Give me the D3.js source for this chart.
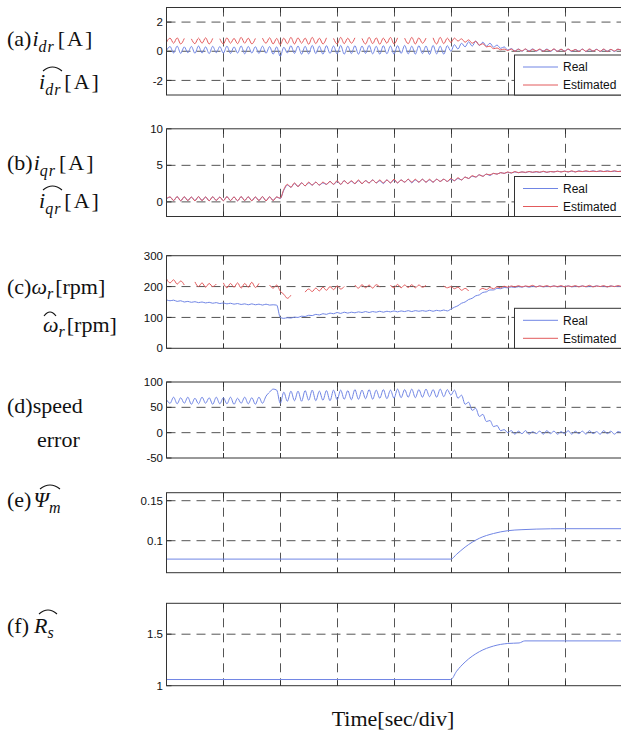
<!DOCTYPE html>
<html>
<head>
<meta charset="utf-8">
<script src="https://cdn.jsdelivr.net/npm/d3@7"></script>
<style>
  body { margin: 0; background: #fff; }
  svg { display: block; }
  .tick-label { font-family: "Liberation Sans", Arial, sans-serif; font-size: 11.5px; fill: #111; }
  .lbl { font-family: "Liberation Serif", "Times New Roman", serif; font-size: 22px; fill: #111; }
  .legend text { font-family: "Liberation Sans", Arial, sans-serif; font-size: 12px; fill: #111; }
</style>
</head>
<body>
<div class="figure"></div>
<script>

// time axis: 8 divisions, oscillating traces sampled every 1/16 div
const timeDivs = [0, 1, 2, 3, 4, 5, 6, 7, 8]
const sampleStep = 1 / 16

// (a) d-axis rotor current
const idrReal = [
  0.05, 0.32, -0.12, 0.35, -0.15, 0.30, -0.10, 0.33, -0.14, 0.36, -0.12, 0.30, -0.16, 0.34, -0.10, 0.32,
  -0.13, 0.35, -0.15, 0.30, -0.12, 0.36, -0.18, 0.33, -0.12, 0.31, -0.15, 0.35, -0.14, 0.32, -0.20, 0.30,
  -0.35, 0.28, -0.12, 0.38, -0.15, 0.36, -0.20, 0.34, -0.18, 0.40, -0.16, 0.35, -0.20, 0.38, -0.15, 0.36,
  -0.18, 0.40, -0.20, 0.35, -0.16, 0.38, -0.20, 0.36, -0.15, 0.40, -0.18, 0.34, -0.20, 0.38, -0.17, 0.36,
  -0.20, 0.38, -0.15, 0.40, -0.18, 0.35, -0.20, 0.38, -0.16, 0.36, -0.22, 0.40, -0.18, 0.35, -0.20, 0.38,
  0.00, 0.45, 0.15, 0.55, 0.30, 0.65, 0.35, 0.70, 0.40, 0.62, 0.35, 0.55, 0.28, 0.42, 0.20, 0.30,
  0.08, 0.18, 0.02, 0.15, 0.00, 0.14, 0.02, 0.16, 0.00, 0.12, 0.02, 0.15, -0.02, 0.14, 0.00, 0.13,
  0.02, 0.14, -0.02, 0.12, 0.00, 0.15, -0.03, 0.12, 0.01, 0.14, -0.02, 0.13, 0.00, 0.12, -0.02, 0.14, 0.05
]
const idrEst = [
  0.62, 0.90, 0.55, 0.92, 0.50, 0.88, null, 0.85, 0.52, 0.90, 0.55, 0.92, 0.50, 0.88, null, 0.86,
  0.50, 0.92, 0.55, 0.88, 0.52, 0.95, 0.55, 0.90, 0.50, 0.88, null, 0.90, 0.55, 0.92, 0.50, 0.88,
  0.45, 0.90, 0.52, 0.95, 0.50, 0.92, 0.55, 0.90, 0.48, 0.95, 0.52, 0.90, 0.50, 0.92, null, 0.88,
  0.50, 0.95, 0.52, 0.90, 0.55, 0.92, null, 0.88, 0.50, 0.95, 0.52, 0.92, 0.48, 0.90, 0.55, 0.95,
  0.50, 0.92, null, 0.90, 0.52, 0.95, 0.50, 0.92, 0.55, 0.90, null, 0.92, 0.50, 0.95, 0.52, 0.90,
  0.60, 0.90, 0.70, 0.85, 0.62, 0.78, 0.55, 0.68, 0.42, 0.52, 0.30, 0.35, 0.18, 0.22, 0.10, 0.15,
  0.05, 0.15, 0.00, 0.14, 0.02, 0.16, -0.02, 0.13, 0.03, 0.15, 0.00, 0.12, 0.02, 0.16, -0.01, 0.14,
  0.00, 0.15, 0.02, 0.12, -0.02, 0.14, 0.00, 0.16, 0.01, 0.12, 0.00, 0.15, -0.02, 0.13, 0.02, 0.14, 0.05
]

// (b) q-axis rotor current
const iqrReal = [
  0.40, 0.65, 0.20, 0.70, 0.15, 0.68, 0.20, 0.65, 0.18, 0.70, 0.20, 0.66, 0.15, 0.68, 0.22, 0.65,
  0.18, 0.70, 0.20, 0.66, 0.15, 0.70, 0.20, 0.68, 0.18, 0.65, 0.20, 0.70, 0.15, 0.68, 0.20, 0.66,
  0.45, 1.6, 2.3, 2.0, 2.5, 2.1, 2.6, 2.2, 2.6, 2.3, 2.7, 2.3, 2.6, 2.4, 2.8, 2.4,
  2.8, 2.4, 2.9, 2.5, 2.8, 2.5, 2.9, 2.5, 2.9, 2.6, 3.0, 2.6, 2.9, 2.5, 3.0, 2.6,
  3.0, 2.6, 3.0, 2.7, 3.1, 2.6, 3.0, 2.7, 3.1, 2.7, 3.0, 2.7, 3.1, 2.8, 3.1, 2.8,
  3.1, 2.9, 3.2, 3.0, 3.4, 3.2, 3.5, 3.4, 3.7, 3.5, 3.8, 3.6, 3.9, 3.8, 4.0, 3.9,
  4.05, 3.95, 4.1, 4.0, 4.1, 4.0, 4.15, 4.05, 4.1, 4.05, 4.15, 4.05, 4.15, 4.1, 4.2, 4.1,
  4.2, 4.1, 4.2, 4.1, 4.25, 4.15, 4.2, 4.15, 4.25, 4.15, 4.2, 4.15, 4.25, 4.15, 4.2, 4.15, 4.2
]
const iqrEst = [
  0.45, 0.68, 0.18, 0.72, 0.15, 0.70, 0.18, 0.66, 0.15, 0.72, 0.18, 0.68, 0.15, 0.70, 0.20, 0.66,
  0.15, 0.72, 0.18, 0.68, 0.15, 0.72, 0.18, 0.70, 0.15, 0.68, 0.18, 0.72, 0.15, 0.70, 0.18, 0.68,
  0.50, 1.7, 2.4, 2.0, 2.6, 2.1, 2.6, 2.2, 2.7, 2.3, 2.7, 2.3, 2.7, 2.4, 2.8, 2.4,
  2.9, 2.4, 2.9, 2.5, 2.9, 2.5, 3.0, 2.5, 2.9, 2.6, 3.0, 2.6, 3.0, 2.6, 3.0, 2.6,
  3.1, 2.6, 3.0, 2.7, 3.1, 2.7, 3.1, 2.7, 3.1, 2.7, 3.1, 2.7, 3.1, 2.8, 3.1, 2.8,
  3.2, 2.9, 3.3, 3.0, 3.4, 3.2, 3.6, 3.4, 3.7, 3.5, 3.8, 3.7, 3.9, 3.8, 4.0, 3.9,
  4.1, 3.95, 4.15, 4.0, 4.1, 4.05, 4.15, 4.05, 4.15, 4.05, 4.2, 4.05, 4.15, 4.1, 4.2, 4.1,
  4.2, 4.1, 4.25, 4.1, 4.2, 4.15, 4.25, 4.15, 4.2, 4.15, 4.25, 4.15, 4.2, 4.15, 4.25, 4.15, 4.2
]

// (c) rotor speed [rpm]
const speedReal = [
  157, 154, 156, 152, 154, 150, 152, 149, 151, 148, 150, 147, 149, 146, 148, 145,
  147, 144, 146, 143, 145, 142, 144, 141, 144, 141, 143, 140, 143, 140, 141, 140,
  100, 97, 99, 98, 101, 100, 104, 103, 107, 106, 110, 108, 112, 110, 114, 112,
  116, 113, 117, 114, 117, 115, 118, 116, 119, 116, 119, 117, 120, 117, 120, 118,
  121, 118, 121, 119, 122, 119, 122, 120, 122, 120, 123, 120, 123, 121, 124, 121,
  127, 133, 138, 146, 150, 158, 162, 170, 173, 181, 183, 189, 189, 194, 193, 197,
  196, 199, 197, 200, 198, 201, 198, 201, 199, 202, 199, 201, 200, 202, 199, 201,
  200, 202, 199, 201, 200, 202, 199, 201, 200, 202, 200, 201, 199, 202, 200, 201, 200
]
const speedEst = [
  225, 212, 222, 208, 218, 205, null, null, 215, 200, 212, 198, 210, 200, 208, null,
  212, 196, 210, 198, 212, 195, 210, 198, 214, 197, 210, null, null, 205, 195, 205,
  185, 175, 162, 172, null, null, null, 182, 192, 184, 195, 186, 198, 188, 200, 190,
  202, 192, 200, null, null, 205, 195, 206, 196, 205, 195, 206, 198, null, null, 205,
  196, 207, 196, 205, 197, 206, 196, 205, 198, 204, null, null, null, null, 202, 196,
  200, 193, 198, 188, 194, 186, null, null, 188, 194, 190, 197, 193, 199, 196, 201,
  198, 202, 199, 203, 199, 202, 200, 204, 199, 202, 200, 203, 199, 202, 200, 203,
  199, 202, 200, 203, 199, 202, 200, 204, 199, 202, 200, 203, 199, 202, 200, 203, 200
]

// (d) speed error
const speedError = [
  65, 58, 70, 57, 69, 58, 70, 56, 68, 57, 70, 58, 69, 56, 70, 57,
  69, 57, 70, 56, 68, 58, 70, 57, 69, 56, 70, 58, 72, 80, 86, 84,
  58, 80, 62, 82, 63, 82, 62, 83, 64, 84, 63, 82, 64, 83, 63, 84,
  65, 84, 66, 83, 65, 85, 66, 84, 67, 85, 66, 84, 68, 85, 67, 84,
  68, 86, 69, 85, 70, 86, 69, 85, 70, 86, 71, 85, 70, 86, 71, 85,
  74, 84, 68, 74, 56, 60, 44, 48, 32, 36, 22, 24, 12, 14, 4, 6,
  0, 4, -3, 3, -2, 4, -3, 2, -2, 3, -3, 4, -2, 3, -3, 2,
  -2, 4, -3, 3, -2, 3, -3, 4, -2, 2, -3, 4, -2, 3, -3, 2, 0
]

// (e) estimated flux linkage, (f) estimated stator resistance
const fluxTime = [0, 5, 5.1, 5.25, 5.5, 5.75, 6, 6.25, 6.5, 7, 8]
const fluxEst = [0.077, 0.077, 0.083, 0.092, 0.103, 0.109, 0.1125, 0.1138, 0.1145, 0.115, 0.115]
const rsTime = [0, 5, 5.1, 5.25, 5.5, 5.75, 6, 6.2, 6.3, 7, 8]
const rsEst = [1.06, 1.06, 1.14, 1.23, 1.33, 1.385, 1.41, 1.415, 1.435, 1.435, 1.435]

const blue = "#7085e4"
const red = "#e25a5c"

const sampled = values => values.map((v, i) => [i * sampleStep, v])
const paired = (ts, vs) => ts.map((t, i) => [t, vs[i]])

const panels = [
  { top: 7.5, bottom: 95, domain: [-3, 3], ticks: [-2, 0, 2], legend: true,
    series: [{ data: sampled(idrReal), color: blue }, { data: sampled(idrEst), color: red }] },
  { top: 128.8, bottom: 216.5, domain: [-2, 10], ticks: [0, 5, 10], legend: true,
    series: [{ data: sampled(iqrReal), color: blue }, { data: sampled(iqrEst), color: red }] },
  { top: 255.7, bottom: 348.3, domain: [0, 300], ticks: [0, 100, 200, 300], legend: true,
    series: [{ data: sampled(speedReal), color: blue }, { data: sampled(speedEst), color: red }] },
  { top: 382, bottom: 458, domain: [-50, 100], ticks: [-50, 0, 50, 100],
    series: [{ data: sampled(speedError), color: blue }] },
  { top: 492.7, bottom: 572.7, domain: [0.06, 0.16], ticks: [0.1, 0.15],
    series: [{ data: paired(fluxTime, fluxEst), color: blue }] },
  { top: 603.3, bottom: 685.7, domain: [1, 1.8], ticks: [1, 1.5],
    series: [{ data: paired(rsTime, rsEst), color: blue }] }
]

const width = 621
const height = 736
const svg = d3.select(".figure")
  .append("svg")
    .attr("width", width)
    .attr("height", height)

const x = d3.scaleLinear().domain([0, 8]).range([166.5, 621.5])
const gridColor = "#555"
const frameColor = "#333"

panels.forEach((p, idx) => {
  const y = d3.scaleLinear().domain(p.domain).range([p.bottom, p.top])
  const g = svg.append("g")

  g.append("clipPath").attr("id", "clip" + idx)
    .append("rect")
      .attr("x", x(0)).attr("y", p.top)
      .attr("width", x(8) - x(0)).attr("height", p.bottom - p.top)

  // dashed grid
  g.selectAll(".hgrid")
    .data(p.ticks.filter(t => t !== p.domain[0] && t !== p.domain[1]))
    .join("line")
      .attr("x1", x(0)).attr("x2", x(8))
      .attr("y1", d => y(d)).attr("y2", d => y(d))
      .attr("stroke", gridColor).attr("stroke-dasharray", "9,6")
  g.selectAll(".vgrid")
    .data(timeDivs.slice(1, -1))
    .join("line")
      .attr("x1", d => Math.round(x(d)) + 0.5).attr("x2", d => Math.round(x(d)) + 0.5)
      .attr("y1", p.top).attr("y2", p.bottom)
      .attr("stroke", gridColor).attr("stroke-dasharray", "9,6")

  // inward tick marks
  timeDivs.slice(1, -1).forEach(t => {
    const xx = Math.round(x(t)) + 0.5
    g.append("line").attr("x1", xx).attr("x2", xx).attr("y1", p.top).attr("y2", p.top + 5).attr("stroke", frameColor)
    g.append("line").attr("x1", xx).attr("x2", xx).attr("y1", p.bottom).attr("y2", p.bottom - 5).attr("stroke", frameColor)
  })
  p.ticks.forEach(t => {
    g.append("line").attr("x1", x(0)).attr("x2", x(0) + 5).attr("y1", y(t)).attr("y2", y(t)).attr("stroke", frameColor)
  })

  g.selectAll(".tick-label")
    .data(p.ticks)
    .join("text")
      .attr("class", "tick-label")
      .attr("x", x(0) - 3.5)
      .attr("y", d => y(d))
      .attr("dy", "0.36em")
      .attr("text-anchor", "end")
      .text(d => d)

  const line = d3.line()
    .defined(d => d[1] !== null)
    .x(d => x(d[0]))
    .y(d => y(d[1]))
    .curve(d3.curveMonotoneX)

  g.append("g").attr("clip-path", `url(#clip${idx})`)
    .selectAll("path")
    .data(p.series)
    .join("path")
      .attr("d", s => line(s.data))
      .attr("fill", "none")
      .attr("stroke", s => s.color)
      .attr("stroke-width", 1)

  g.append("rect")
    .attr("x", x(0)).attr("y", p.top)
    .attr("width", x(8) - x(0)).attr("height", p.bottom - p.top)
    .attr("fill", "none").attr("stroke", frameColor)

  if (p.legend) {
    const lg = g.append("g").attr("class", "legend")
    const top = p.bottom - 40
    lg.append("rect")
      .attr("x", 514.5).attr("y", top).attr("width", 120).attr("height", 40)
      .attr("fill", "#fff").attr("stroke", frameColor)
    const entries = [["Real", blue, top + 12], ["Estimated", red, top + 30]]
    entries.forEach(([name, color, ly]) => {
      lg.append("line").attr("x1", 523).attr("x2", 558).attr("y1", ly).attr("y2", ly)
        .attr("stroke", color).attr("stroke-width", 1)
      lg.append("text").attr("x", 563).attr("y", ly).attr("dy", "0.36em").text(name)
    })
  }
})

// left-hand labels
function label(x0, y0, parts) {
  const t = svg.append("text").attr("class", "lbl").attr("x", x0).attr("y", y0)
  parts.forEach(([txt, opt]) => {
    const s = t.append("tspan").text(txt)
    if (opt && opt.italic) s.attr("font-style", "italic")
    if (opt && opt.size) s.attr("font-size", opt.size)
    if (opt && opt.dy) s.attr("dy", opt.dy)
    if (opt && opt.dx) s.attr("dx", opt.dx)
    if (opt && opt.ls) s.attr("letter-spacing", opt.ls)
  })
}
function hat(x0, x1, yy) {
  svg.append("path")
    .attr("d", `M${x0},${yy + 4} Q${(x0 + x1) / 2},${yy - 4} ${x1},${yy + 4}`)
    .attr("fill", "none").attr("stroke", "#111").attr("stroke-width", 1.1)
}
const it = { italic: true }
const sub = dy => ({ italic: true, size: "16px", dy: dy, ls: "1px" })
const unit = dy => ({ dy: dy, dx: 3, ls: "2px" })

label(7, 46, [["(a)"], ["i", { italic: true, dx: 1 }], ["dr", sub(6)], ["[A]", unit(-6)]])
label(39, 89, [["i", it], ["dr", sub(6)], ["[A]", unit(-6)]])
hat(43, 62, 67)

label(7, 170, [["(b)"], ["i", { italic: true, dx: 1 }], ["qr", sub(6)], ["[A]", unit(-6)]])
label(39, 208, [["i", it], ["qr", sub(6)], ["[A]", unit(-6)]])
hat(43, 62, 186)

label(7, 294, [["(c)"], ["ω", it], ["r", sub(5)], ["[rpm]", { dy: -5, dx: 1 }]])
label(43, 332, [["ω", it], ["r", sub(5)], ["[rpm]", { dy: -5, dx: 1 }]])
hat(44, 56, 312)

label(7, 413, [["(d)speed"]])
label(37, 447, [["error"]])

label(7, 507, [["(e)"], ["Ψ", { italic: true, dx: 2 }], ["m", sub(6)]])
hat(40, 60, 485)

label(7, 633, [["(f)"], ["R", { italic: true, dx: 5 }], ["s", sub(5)]])
hat(39, 57, 610)

svg.append("text").attr("class", "lbl")
  .attr("x", 393).attr("y", 726).attr("text-anchor", "middle")
  .attr("font-size", "20.5px")
  .text("Time[sec/div]")

</script>
</body>
</html>
